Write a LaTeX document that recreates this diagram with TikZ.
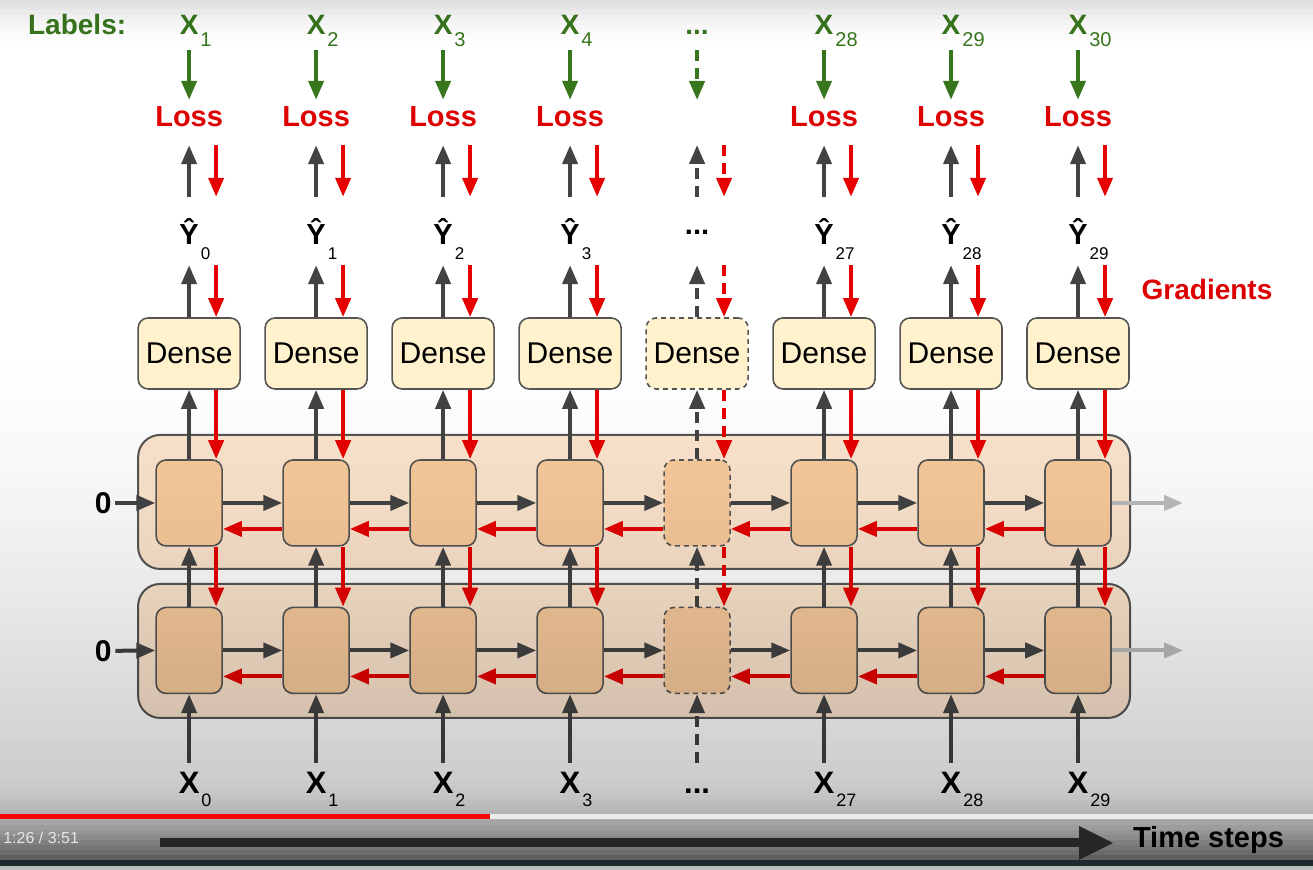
\documentclass[tikz,border=0pt]{standalone}
\usepackage{fontspec}
\setmainfont{Liberation Sans}
\usepackage{xcolor}
\usetikzlibrary{arrows.meta,positioning}
\definecolor{graydark}{HTML}{434343}
\definecolor{boxline}{HTML}{555555}
\definecolor{lossred}{HTML}{DD0000}
\definecolor{gradred}{HTML}{E60000}
\definecolor{labelgreen}{HTML}{38761D}
\definecolor{densefill}{HTML}{FFF2CC}
\definecolor{cellfill}{HTML}{F9CB9C}
\definecolor{layerfill}{HTML}{FCE5CD}
\definecolor{ghost}{HTML}{BDBDBD}
\definecolor{playerbar}{HTML}{1E282D}
% subscript hanging right of a centred letter
\newcommand\lowsub[3]{\rlap{\smash{\raisebox{-#1}{\kern2pt\mdseries\fontsize{#2}{#2}\selectfont #3}}}}

\begin{document}
\begin{tikzpicture}[x=1pt,y=-1pt,
  dense/.style={rectangle,draw=boxline,line width=1.6pt,fill=densefill,minimum width=102pt,minimum height=71pt,rounded corners=10pt,inner sep=0pt,font=\fontsize{30}{30}\selectfont},
  cell/.style={rectangle,draw=boxline,line width=1.6pt,fill=cellfill,minimum width=66pt,minimum height=86pt,rounded corners=10pt},
  layer/.style={draw=boxline,line width=2pt,fill=layerfill,rounded corners=22pt},
  boxdash/.style={dash pattern=on 5pt off 4pt},
  linedash/.style={dash pattern=on 11pt off 7pt},
  loss/.style={anchor=base,inner sep=0pt,text height=27pt,text depth=18pt,text=lossred,font=\bfseries\fontsize{29}{29}\selectfont},
  yhat/.style={anchor=base,inner sep=0pt,text height=48pt,text depth=20pt,font=\bfseries\fontsize{29}{29}\selectfont},
  lbl/.style={anchor=base,inner sep=0pt,text height=22pt,text depth=15pt,text=labelgreen,font=\bfseries\fontsize{28}{28}\selectfont},
  xin/.style={anchor=base,inner sep=0pt,text height=31pt,font=\bfseries\fontsize{31}{31}\selectfont},
  zero/.style={inner sep=2pt,outer sep=2pt,font=\bfseries\fontsize{30}{30}\selectfont},
  fwd/.style={-{Triangle[length=19pt,width=15pt]},line width=4pt,draw=graydark},
  grad/.style={-{Triangle[length=19pt,width=15pt]},line width=4pt,draw=gradred},
  tolbl/.style={-{Triangle[length=19pt,width=15pt]},line width=4pt,draw=labelgreen},
  tonext/.style={-{Triangle[length=19pt,width=15pt]},line width=4pt,draw=ghost}
]
\fill[white] (0,0) rectangle (1313,866);

% the two recurrent layers
\path[layer] (138,435) rectangle (1130,569);
\path[layer] (138,584) rectangle (1130,718);

% cells and dense heads
\foreach \i/\x in {1/189,2/316,3/443,4/570,6/824,7/951,8/1078}{
  \node[cell] (ct\i) at (\x,503) {};
  \node[cell] (cb\i) at (\x,650.5) {};
  \node[dense] (d\i) at (\x,353.5) {Dense};
}
\node[cell,boxdash] (ct5) at (697,503) {};
\node[cell,boxdash] (cb5) at (697,650.5) {};
\node[dense,boxdash] (d5) at (697,353.5) {Dense};

% texts per time step
\foreach \i/\x/\t/\y/\b in {1/189/1/0/0,2/316/2/1/1,3/443/3/2/2,4/570/4/3/3,6/824/28/27/27,7/951/29/28/28,8/1078/30/29/29}{
  \node[lbl] (lb\i) at (\x,35) {X\lowsub{12pt}{20}{\t}};
  \node[loss] (ls\i) at (\x,127) {Loss};
  \node[yhat] (yh\i) at (\x,245) {\^{Y}\lowsub{15pt}{17}{\y}};
  \node[xin] (xb\i) at (\x,794) {X\lowsub{13pt}{18}{\b}};
}
\node[lbl] (lb5) at (697,35) {...};
\coordinate (ls5a) at (697,100);
\coordinate (ls5b) at (697,145);
\node[yhat] (yh5) at (697,245) {\raisebox{10pt}{...}};
\node[xin] (xb5) at (697,794) {...};

\node[lbl] (labels) at (77,35) {Labels:};
\node[text=lossred,font=\bfseries\fontsize{28}{28}\selectfont] (gradients) at (1207,290) {Gradients};

% vertical flow
\foreach \i in {1,2,3,4,6,7,8}{
  \draw[tolbl] (lb\i.south) -- (ls\i.north);
  \draw[fwd] (yh\i.north) -- (ls\i.south);
  \draw[grad] ([xshift=27pt]ls\i.south) -- ([xshift=27pt]yh\i.north);
  \draw[fwd] (d\i.north) -- (yh\i.south);
  \draw[grad] ([xshift=27pt]yh\i.south) -- ([xshift=27pt]d\i.north);
  \draw[fwd] (ct\i.north) -- (d\i.south);
  \draw[grad] ([xshift=27pt]d\i.south) -- ([xshift=27pt]ct\i.north);
  \draw[fwd] (cb\i.north) -- (ct\i.south);
  \draw[grad] ([xshift=27pt]ct\i.south) -- ([xshift=27pt]cb\i.north);
  \draw[fwd] (xb\i.north) -- (cb\i.south);
}
\draw[tolbl,linedash] (lb5.south) -- (ls5a);
\draw[fwd,linedash] (yh5.north) -- (ls5b);
\draw[grad,linedash] ([xshift=27pt]ls5b) -- ([xshift=27pt]yh5.north);
\draw[fwd,linedash] (d5.north) -- (yh5.south);
\draw[grad,linedash] ([xshift=27pt]yh5.south) -- ([xshift=27pt]d5.north);
\draw[fwd,linedash] (ct5.north) -- (d5.south);
\draw[grad,linedash] ([xshift=27pt]d5.south) -- ([xshift=27pt]ct5.north);
\draw[fwd,linedash] (cb5.north) -- (ct5.south);
\draw[grad,linedash] ([xshift=27pt]ct5.south) -- ([xshift=27pt]cb5.north);
\draw[fwd,linedash] (xb5.north) -- (cb5.south);

% flow through time
\foreach \i [count=\j from 2] in {1,...,7}{
  \draw[fwd] (ct\i.east) -- (ct\j.west);
  \draw[fwd] (cb\i.east) -- (cb\j.west);
  \draw[grad] ([yshift=-26pt]ct\j.west) -- ([yshift=-26pt]ct\i.east);
  \draw[grad] ([yshift=-26pt]cb\j.west) -- ([yshift=-26pt]cb\i.east);
}
\node[zero] (z1) at (103,503) {0};
\node[zero] (z2) at (103,651) {0};
\draw[fwd] (z1) -- (ct1.west);
\draw[fwd] (z2) -- (cb1.west);
\coordinate (out1) at (1183,503);
\coordinate (out2) at (1183,650.5);
\draw[tonext] (ct8.east) -- (out1);
\draw[tonext] (cb8.east) -- (out2);

% player shading
\foreach \k in {0,...,9}{
  \pgfmathsetmacro\op{0.12*(1-\k/10)^2}
  \fill[black,opacity=\op] (0,{\k*5}) rectangle (1313,{\k*5+5});
}
\foreach \k in {0,...,51}{
  \pgfmathsetmacro\op{0.26*((\k+1)/52)^1.5}
  \fill[black,opacity=\op] (0,{350+\k*10}) rectangle (1313,{360+\k*10});
}
\foreach \k in {0,...,15}{
  \pgfmathsetmacro\op{0.5*((\k+1)/16)^2}
  \fill[black,opacity=\op] (0,{780+\k*5}) rectangle (1313,{785+\k*5});
}
\fill[playerbar] (0,860) rectangle (1313,866);
\fill[red] (0,814) rectangle (490,819);
\fill[white!85!gray] (490,814) rectangle (1313,819);
\node[text=white!80!gray,font=\fontsize{16}{16}\selectfont] (clock) at (41,838) {1:26 / 3:51};

% time axis
\node[anchor=west,inner sep=0pt,outer xsep=19pt,font=\bfseries\fontsize{29}{29}\selectfont] (ts) at (1114,840) {Time steps};
\coordinate (tstart) at (160,843);
\draw[-{Triangle[length=35pt,width=31pt]},line width=9pt,draw=black!85] (tstart) -- (tstart -| ts.west);
\end{tikzpicture}
\end{document}
